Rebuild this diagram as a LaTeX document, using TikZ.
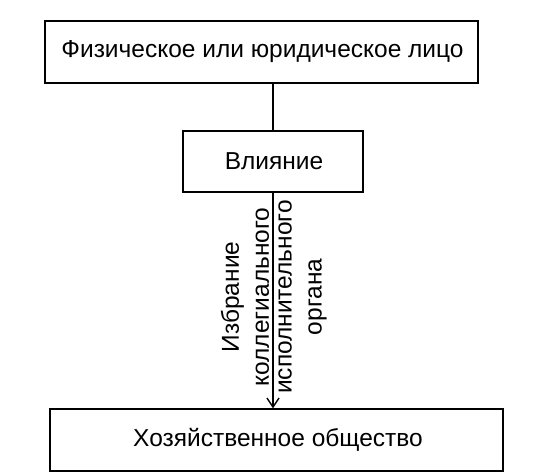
\documentclass[tikz,border=0pt]{standalone}
\usepackage{fontspec}
\setmainfont{Liberation Sans}
\usetikzlibrary{arrows.meta}
\begin{document}
\begin{tikzpicture}[x=1pt,y=-1pt,
  boxstyle/.style={draw, line width=1.4pt, inner sep=0pt, fill=white},
  lbl/.style={font=\fontsize{24.5}{30}\selectfont},
  rotlbl/.style={font=\fontsize{24.5}{30}\selectfont, rotate=90, align=center, inner sep=0pt},
  conn/.style={line width=1.4pt}]
\useasboundingbox[fill=white] (0,0) rectangle (547,474);
\node[boxstyle, minimum width=433pt, minimum height=62pt] (top) at (261.5,52) {};
\node[lbl] (toptext) at (262.5,52) {Физическое или юридическое лицо};
\node[boxstyle, minimum width=180pt, minimum height=61pt] (infl) at (273,161.5) {};
\node[lbl] (infltext) at (274,161.5) {Влияние};
\node[boxstyle, minimum width=453pt, minimum height=62pt] (soc) at (276.5,440) {};
\node[lbl] (soctext) at (278,440) {Хозяйственное общество};
\coordinate (a1) at (273,83);
\coordinate (a2) at (273,409);
\draw[conn] (a1) -- (infl.north -| a1);
\draw[conn, -{Straight Barb[length=9pt,width=12pt,line width=1.4pt]}] (infl.south -| a2) -- (soc.north -| a2);
\node[rotlbl] (l1) at (245,297) {Избрание\\коллегиального};
\node[rotlbl] (l2) at (302.5,297) {исполнительного\\органа};
\end{tikzpicture}
\end{document}
